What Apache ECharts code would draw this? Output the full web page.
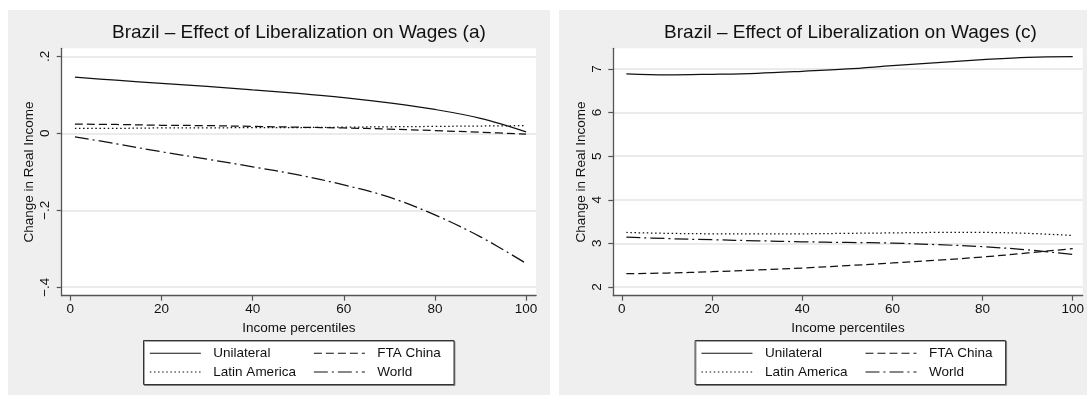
<!DOCTYPE html>
<html>
<head>
<meta charset="utf-8">
<script src="https://cdn.jsdelivr.net/npm/echarts@6/dist/echarts.min.js"></script>
<style>
  html, body { margin: 0; padding: 0; background: #ffffff; }
  #chart { width: 1087px; height: 396px; }
</style>
</head>
<body>
<div id="chart"></div>
<script>
// Income percentiles at which each scenario is sampled
const percentiles = [1, 10, 20, 30, 40, 50, 60, 70, 80, 90, 100];

// Panel (a): change in real income by scenario
const unilateralA   = [0.146, 0.138, 0.130, 0.122, 0.113, 0.104, 0.093, 0.079, 0.062, 0.039, 0.004];
const ftaChinaA     = [0.024, 0.023, 0.021, 0.020, 0.018, 0.016, 0.014, 0.011, 0.007, 0.003, -0.002];
const latinAmericaA = [0.013, 0.013, 0.014, 0.014, 0.015, 0.015, 0.016, 0.017, 0.018, 0.019, 0.020];
const worldA        = [-0.009, -0.027, -0.048, -0.067, -0.087, -0.108, -0.134, -0.166, -0.212, -0.269, -0.338];

// Panel (c): change in real income by scenario
const unilateralC   = [6.885, 6.862, 6.877, 6.900, 6.946, 7.000, 7.074, 7.143, 7.212, 7.267, 7.281];
const ftaChinaC     = [2.305, 2.320, 2.350, 2.390, 2.435, 2.490, 2.550, 2.615, 2.687, 2.780, 2.880];
const latinAmericaC = [3.250, 3.230, 3.220, 3.220, 3.220, 3.230, 3.240, 3.250, 3.250, 3.230, 3.180];
const worldC        = [3.145, 3.110, 3.083, 3.060, 3.037, 3.020, 3.007, 2.970, 2.925, 2.850, 2.745];

// Axis ticks and labels
const xTicks = [0, 20, 40, 60, 80, 100];
const yTicksA = [0.2, 0, -0.2, -0.4];
const yTickLabelsA = ['.2', '0', '\u2212.2', '\u2212.4'];
const yTicksC = [2, 3, 4, 5, 6, 7];
const yTickLabelsC = ['2', '3', '4', '5', '6', '7'];

const titles = [
  'Brazil \u2013 Effect of Liberalization on Wages (a)',
  'Brazil \u2013 Effect of Liberalization on Wages (c)'
];
const seriesNames = ['Unilateral', 'FTA China', 'Latin America', 'World'];
const xAxisTitle = 'Income percentiles';
const yAxisTitle = 'Change in Real Income';

// ---- styling / layout ----
const FONT = '"Liberation Sans", Arial, Helvetica, sans-serif';
const INK = '#111111';
const AXIS = '#555555';
const PANEL_BG = '#efefef';
const GRID_LINE = '#e4e4e4';
const LINE_W = 1.25;
const dashStyles = {
  'Unilateral': 'solid',
  'FTA China': [8, 4],
  'Latin America': [1.5, 2.6],
  'World': [14, 4, 2, 4]
};

const panels = [
  { x: 8, gridLeft: 61.7, yMin: -0.422, yMax: 0.221, ticks: yTicksA, labels: yTickLabelsA,
    data: [unilateralA, ftaChinaA, latinAmericaA, worldA] },
  { x: 559, gridLeft: 613.3, yMin: 1.80, yMax: 7.473, ticks: yTicksC, labels: yTickLabelsC,
    data: [unilateralC, ftaChinaC, latinAmericaC, worldC] }
];
const GRID_TOP = 48.3, GRID_W = 474.4, GRID_H = 247.4;
const X_MIN = -1.9, X_MAX = 102.2;

const option = {
  backgroundColor: '#ffffff',
  animation: false,
  textStyle: { fontFamily: FONT, color: INK },
  title: [], grid: [], xAxis: [], yAxis: [], series: [], legend: [], graphic: []
};

panels.forEach((p, i) => {
  const cx = p.gridLeft + GRID_W / 2;
  const off = p.gridLeft - 61.7;

  option.graphic.push({
    type: 'rect', z: -10, silent: true,
    shape: { x: p.x, y: 10, width: 542, height: 385 },
    style: { fill: PANEL_BG }
  });
  // legend frame
  option.graphic.push({
    type: 'rect', z: 1, silent: true,
    shape: { x: 143.5 + off, y: 340.5, width: 310.5, height: 44 },
    style: { fill: '#ffffff', stroke: '#333333', lineWidth: 1,
             shadowColor: 'rgba(0,0,0,0.35)', shadowOffsetX: 1, shadowOffsetY: 1, shadowBlur: 0 }
  });

  option.title.push({
    text: titles[i], left: cx, top: 23, textAlign: 'center', padding: 0,
    textStyle: { fontFamily: FONT, fontSize: 19, fontWeight: 'normal', color: INK }
  });

  option.grid.push({
    left: p.gridLeft, top: GRID_TOP, width: GRID_W, height: GRID_H,
    show: true, backgroundColor: '#ffffff', borderWidth: 0, containLabel: false
  });

  option.xAxis.push({
    type: 'value', gridIndex: i, min: X_MIN, max: X_MAX,
    name: xAxisTitle, nameLocation: 'middle', nameGap: 21,
    nameTextStyle: { fontFamily: FONT, fontSize: 13.5, color: INK },
    axisLine: { onZero: false, lineStyle: { color: AXIS, width: 1.3 } },
    axisTick: { customValues: xTicks, length: 5, lineStyle: { color: AXIS, width: 1.2 } },
    axisLabel: { customValues: xTicks, margin: 7, fontFamily: FONT, fontSize: 13.5, color: INK },
    splitLine: { show: false }
  });

  option.yAxis.push({
    type: 'value', gridIndex: i, min: p.yMin, max: p.yMax,
    name: yAxisTitle, nameLocation: 'middle', nameGap: 25,
    nameTextStyle: { fontFamily: FONT, fontSize: 13.5, color: INK },
    axisLine: { show: true, onZero: false, lineStyle: { color: AXIS, width: 1.3 } },
    axisTick: { show: true, customValues: p.ticks, length: 5, lineStyle: { color: AXIS, width: 1.2 } },
    axisLabel: {
      customValues: p.ticks, rotate: 90, margin: 9,
      fontFamily: FONT, fontSize: 13.5, color: INK,
      formatter: v => {
        const k = p.ticks.findIndex(t => Math.abs(t - v) < 1e-9);
        return k >= 0 ? p.labels[k] : '';
      }
    },
    splitLine: { show: true, lineStyle: { color: GRID_LINE, width: 1.5 } }
  });

  seriesNames.forEach((name, s) => {
    option.series.push({
      type: 'line', name: name, xAxisIndex: i, yAxisIndex: i,
      data: percentiles.map((pc, k) => [pc, p.data[s][k]]),
      smooth: 0.35, symbol: 'none', showSymbol: false,
      lineStyle: { color: INK, width: LINE_W, type: dashStyles[name] },
      itemStyle: { color: INK },
      z: 3
    });
  });

  const legendCommon = {
    orient: 'vertical', top: 346.3, padding: 0, itemGap: 4.7,
    itemWidth: 51, itemHeight: 14, z: 5,
    selectedMode: false,
    itemStyle: { opacity: 0 },
    lineStyle: { width: 1.1 },
    formatter: n => '{t|' + n + '}',
    textStyle: {
      fontFamily: FONT, fontSize: 13.5, color: INK,
      rich: { t: { fontFamily: FONT, fontSize: 13.5, color: INK, padding: [0, 0, 0, 7.5], lineHeight: 14 } }
    }
  };
  option.legend.push(Object.assign({}, legendCommon, {
    left: 149.3 + off, data: ['Unilateral', 'Latin America']
  }));
  option.legend.push(Object.assign({}, legendCommon, {
    left: 313.3 + off, data: ['FTA China', 'World']
  }));
});

const chart = echarts.init(document.getElementById('chart'), null, { renderer: 'canvas' });
chart.setOption(option);
</script>
</body>
</html>
